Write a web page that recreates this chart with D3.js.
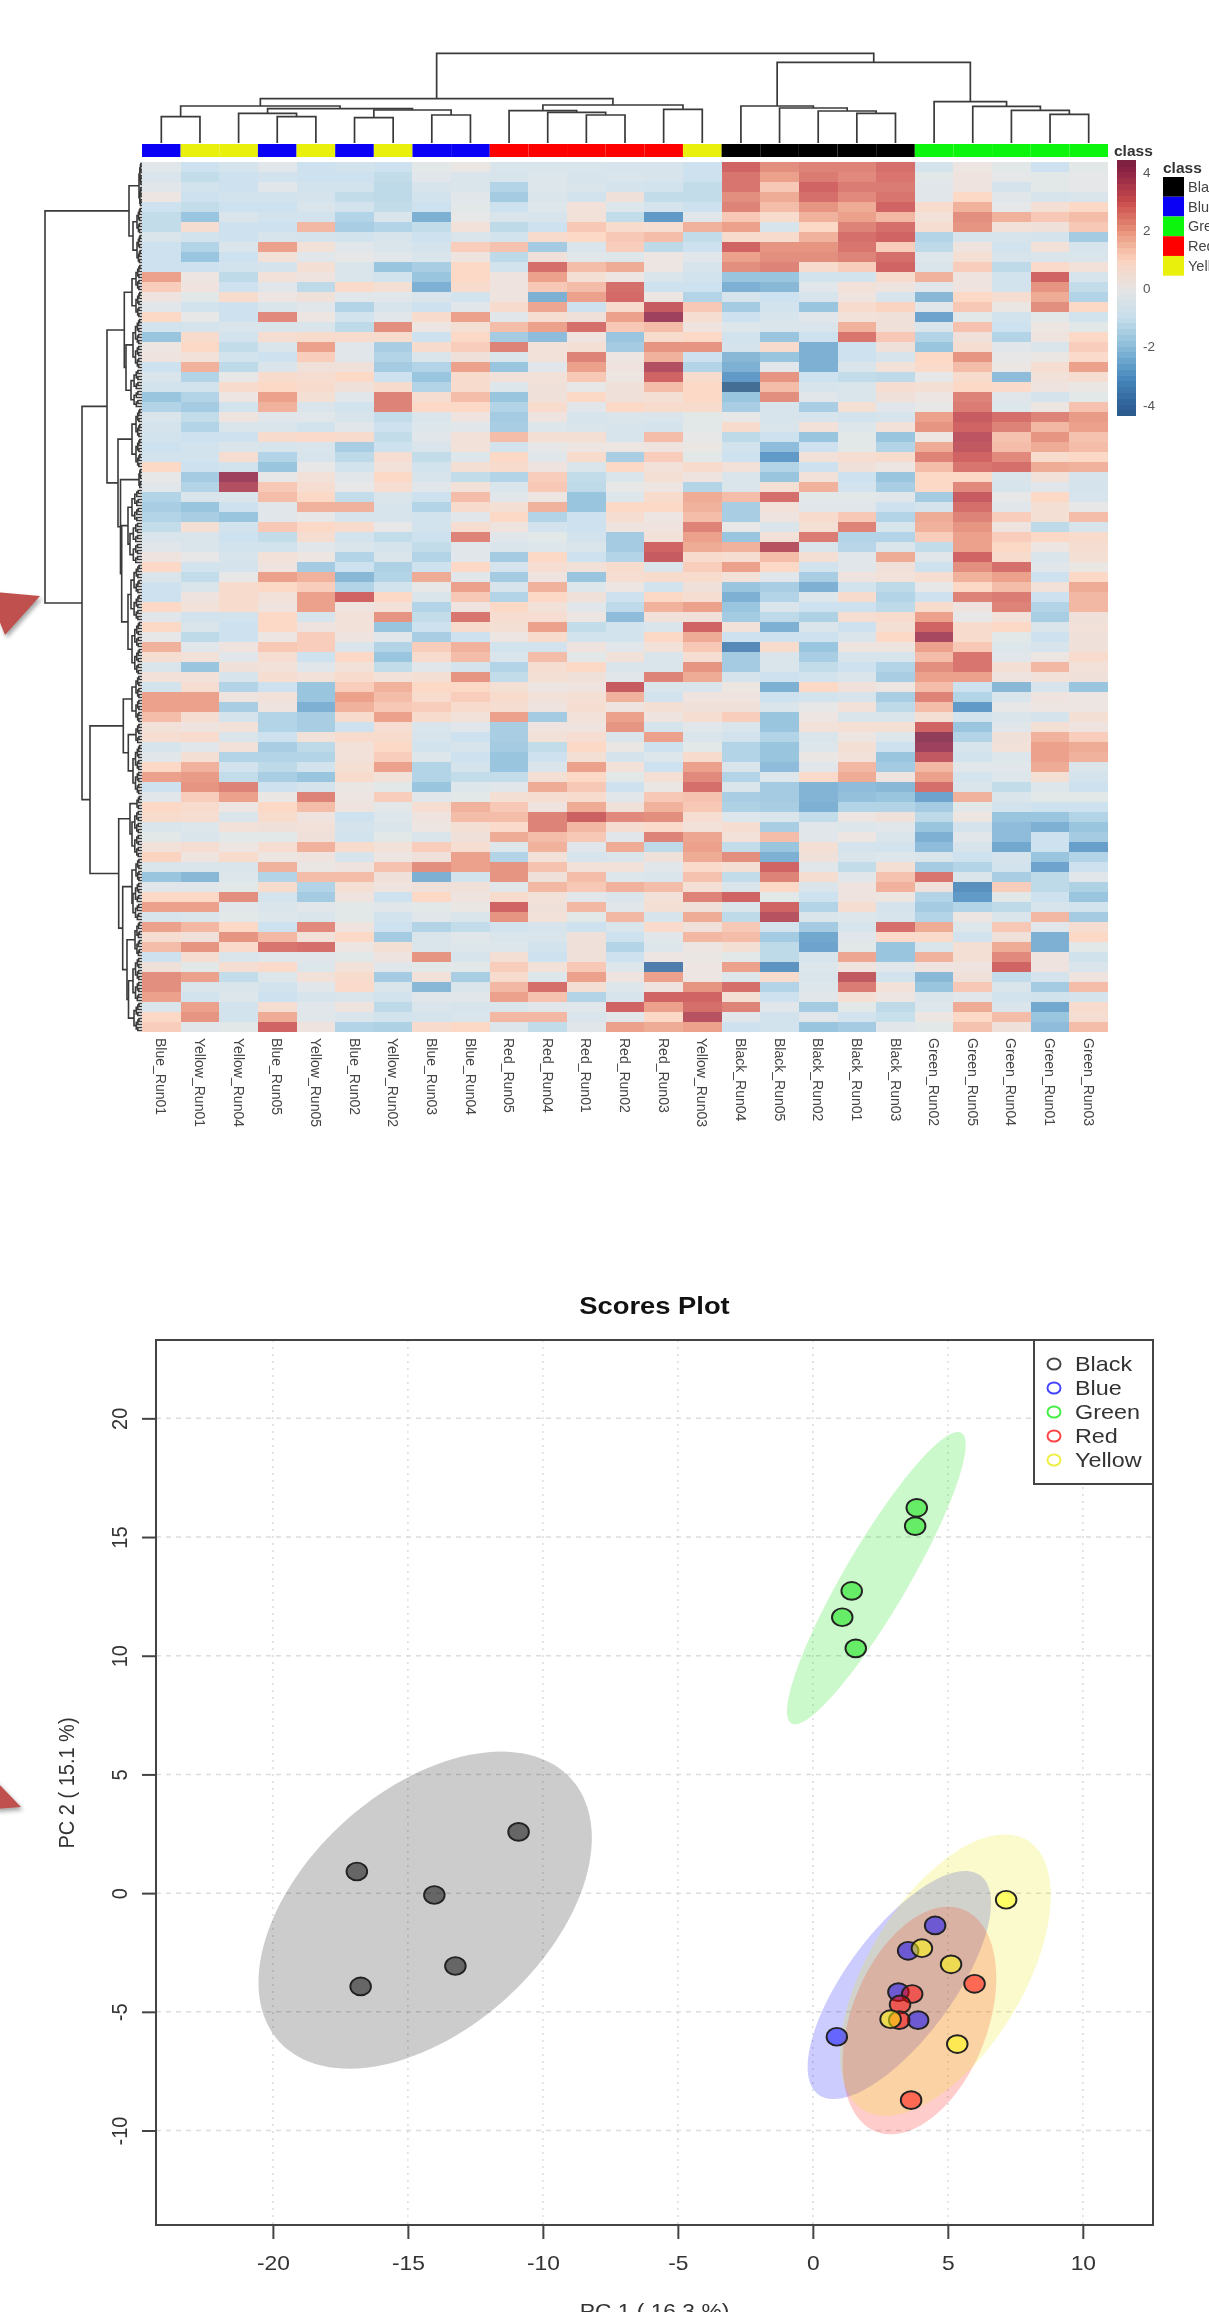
<!DOCTYPE html>
<html>
<head>
<meta charset="utf-8">
<script src="https://cdn.jsdelivr.net/npm/d3@7"></script>
<style>
  html, body { margin: 0; padding: 0; background: #fff; overflow: hidden; }
  svg { display: block; font-family: "Liberation Sans", Arial, sans-serif; filter: blur(0.6px); }
</style>
</head>
<body>
<script>
// heatmap: column labels in dendrogram order
const columnLabels = ['Blue_Run01', 'Yellow_Run01', 'Yellow_Run04', 'Blue_Run05', 'Yellow_Run05',
  'Blue_Run02', 'Yellow_Run02', 'Blue_Run03', 'Blue_Run04', 'Red_Run05', 'Red_Run04', 'Red_Run01',
  'Red_Run02', 'Red_Run03', 'Yellow_Run03', 'Black_Run04', 'Black_Run05', 'Black_Run02',
  'Black_Run01', 'Black_Run03', 'Green_Run02', 'Green_Run05', 'Green_Run04', 'Green_Run01', 'Green_Run03']

// one array per column top to bottom (bands of 10 px)
const blue01 = [-.3,-.5,-.3,.2,-1,-1.2,-1.2,-.5,-1,-1,-1,2,1.2,.3,-.3,1,-.8,-2,.2,.3,-1,-.5,-.8,-2,-1.5,-.5,-.7,-.8,-1,
  -.8,1,0,-.3,-1.5,-1.7,-1.5,-1.2,-.5,-.3,.3,1,-.5,-1,-1,1,-.3,1,0,1.7,.7,-.5,.5,-.8,2,2,1.5,.5,.7,
  -.6,-.3,1,2,-1,-.3,1,.8,-.5,-.2,.5,1.1,-.5,-2,-.3,1,2,-.6,2,.7,1.5,-1,.4,2.3,2.3,2,-.5,1,1.2]
const yellow01 = [-1,-1.2,-.8,-1,-1.2,-2,.7,-.8,-1.5,-2,-1,.2,.3,-.2,-.8,0,-.7,.8,1,.5,1.7,-1.5,-.8,-1.5,-1.8,-1.2,-1.5,-1,-.8,
  -.8,-1,-1.8,-1.5,-.5,-2,-1.7,.6,-.5,-.5,0,-.8,-1.2,-.5,.3,.5,-.8,-.5,-1.3,-.3,.5,-2,.5,.7,2,2,.7,.3,.8,
  -.3,.6,1.7,2.1,2.2,1.2,.8,.7,-.4,-.5,.7,.3,-.5,-2.3,-.3,1,2,-.5,1.6,.4,2.2,.7,-.2,2,-.5,-.8,2,2.2,-.3]
const yellow04 = [-.7,-1,-1,-.8,-1,-.5,-1,-1,-.5,-1,-.8,-1.3,-1,.8,-1,-1,-.5,-.8,-1.2,-.8,-1.3,0,.8,.2,-.8,.3,-.5,-1,-.5,
  .7,-.8,4,3.6,-.5,-1,-2,-.8,-1,-.8,-.6,-.7,0,.8,.8,.8,-.8,-1,-1,.3,-.3,.4,-.6,-1.5,.3,-1.7,-.7,.5,-.5,
  .5,-1.5,-.8,-1.2,2.5,2,.2,-.5,.5,-.2,.2,.8,-.5,-.4,-.2,2.3,-.3,-.2,1,2.2,.9,-.5,.7,-1.2,-.5,-.4,-.8,-.8,-.2]
const blue05 = [-.3,-.8,-.3,-.8,-1,-.8,-1,-.6,2,.5,-.7,.5,-.3,.2,-.5,2.4,-.5,.7,-.5,-1,-.5,.8,1,2,1.7,-.3,-.5,.8,-.6,
  -1.5,-2,0,1.3,1.5,-.3,-.3,1.3,-1.2,-.8,.5,.3,2,1,.5,.3,1,1,.2,1.3,.7,.5,.7,-1,.5,.3,-1.5,-1.5,-1,
  -1.7,-1.5,-1.3,-1.7,-1,.1,1,.8,.4,-.2,.7,.2,1.7,-1.5,.8,-.7,-.5,-.4,-1,1.6,2.7,-.3,.9,-.4,-.8,-1,.7,1.8,3]
const yellow05 = [-1,-1,-.8,-.7,-.5,-.8,1.6,-.7,.5,-.3,.6,.3,-1.3,.4,-.3,.2,-.5,.8,2,1.2,.4,.7,.8,.6,-.5,-.3,-.8,.9,-.5,
  -.6,0,.5,.7,1,1.7,0,1,.7,-.3,.2,-1.8,1.7,1.2,2,2,-.6,.3,1.2,1.2,-1,-.3,.5,-2,-2,-2.5,-1.7,-1.7,.5,
  -1.3,-1.5,-.8,-2,-.7,2.5,1.5,.3,.5,.4,1.7,.3,.1,1.5,-1.5,-1.8,-.3,-.5,2.4,.5,2.8,-.3,-.4,.5,-.3,-.6,-.3,-.3,.3]
const blue02 = [-.8,-1,-.8,-1.2,-.8,-1.5,-1.7,-.8,-.3,0,-.5,-.5,.9,-.3,-1.5,-.8,-1.3,.8,-.3,-.3,.4,1,.4,-.3,-.8,-.6,-.3,.8,-1.7,
  -1.3,-.8,-.3,0,-1.2,1.7,-.6,.8,-.8,-.5,-1.5,-1,-2.3,-1.5,3,.3,.5,.5,.3,-.5,1,.5,.8,1.2,2,1.7,.8,-1,.8,
  .5,.5,.6,.8,.1,.2,.3,-1,-.7,-.8,.8,-.6,.3,1.5,.6,.3,-.2,-.2,.3,1,.2,-.2,.5,.8,.9,-.5,.3,-.5,-1.5]
const yellow02 = [-1,-1.2,-1.3,-1.3,-1.2,-.5,-1.5,-.6,-.5,-.3,-2,-.8,.6,-.3,-.6,-.3,2.3,.8,-1.7,-1.5,-1.8,-1,.8,2.5,2.5,-1.2,-1,-1.2,-1,
  .7,.5,1,.7,-.5,-.6,-.6,0,-1.2,-.7,-.5,-1.6,-1.5,-.8,1,.5,2.2,-2,-.3,-1.5,-2,-1.2,.5,1.7,1.5,1.3,2,.7,.8,
  1,1.2,2,.5,-.2,1.2,-.2,-.4,-.5,-.2,.5,.2,1.4,.4,.3,-1,-.3,-.8,-1,-1.8,.6,.3,-.3,-1.8,-.5,-.8,-1.3,-.8,-1.6]
const blue03 = [-.2,-.3,-.6,-.8,-1,-2.5,-1.2,-1,-.7,-.5,-1.7,-2,-2.5,-.5,-1,.8,.2,-1,.8,-.5,-1.5,-2,-1.5,.7,1,-.5,-.4,-.3,-.5,
  -1.2,-.8,-.6,-.3,-1,-1.5,-.8,-.8,-1,-1.2,-1.5,-1,1.8,0,-.5,-1.5,-1.2,-1,-1.7,1.2,.8,-.3,.6,1,.8,1.2,.8,-.5,-.6,
  -.8,-.4,-1.5,-1.5,-2,-.3,.7,.3,.2,-.5,1.2,.4,2.3,-2.5,.4,1,-.2,-.3,-1.5,-.5,-.5,2.2,-.2,.5,-2.3,-.3,-.5,-.7,.8]
const blue04 = [.1,-.5,-.5,-.3,-.2,0,.5,-.5,1.2,.3,1,1,.8,-.8,-.3,2,.6,1,1.2,.4,2,.8,.8,1.5,1,.3,-.3,.5,.5,
  -.4,.6,-1.2,.5,1.5,.8,-.3,.7,2.5,-.3,-.3,1,-.3,2,1.3,.3,2.7,.8,-1,1.7,1.5,-.7,2.2,1,1.2,.8,.5,-.3,-1,
  -.6,-1,-.7,-1.2,-.4,-.2,1.7,1.5,.6,.4,.7,2,2,-.8,.4,.3,.1,-.5,-1.2,-.3,-.4,-.6,-.2,-1.7,-.5,-.3,-.6,-.5,1]
const red05 = [-.5,-.6,-1.5,-1.8,-1,-.5,-1.3,-.8,1.4,-1.3,-.8,.3,.3,.3,.8,-.3,1.5,-1.8,2.5,-.5,-2,.5,-.4,-2,-1.5,-1.8,-1.7,1.5,-.8,
  1,.8,-1.5,-.5,-.3,.6,1,.3,-.3,-.5,-1.8,-.7,-1.8,-.6,-1.5,1,.7,.6,.2,-.8,-.5,-1.5,-1.2,.6,.8,.7,2,-1.7,-1.7,
  -1.8,-2,-2,-1.2,-.3,.6,1.3,1.5,.9,1.8,-.4,-1.5,2.2,2.2,-.3,.8,3,2.2,-.8,-.5,-.4,.6,1.2,.8,1.6,2,-.5,1.6,-.4]
const red04 = [-.5,-.4,-.4,-.5,-.4,-.6,-1,.8,-1.8,.4,2.8,2,1.3,-2.5,1.9,.7,2,-2.2,.5,.5,-.3,.5,.4,.4,.8,.3,-.4,.6,0,
  -.3,.3,1.2,1.3,.2,1.7,-1.5,-.8,-.2,-.4,1,.7,.3,1.7,1,.5,.7,2,.8,-.8,1.5,.7,.6,.2,.5,.3,-1.8,.3,.5,
  -1.2,-1,-.5,.6,1.8,.7,.3,2.5,2.5,1.5,1.7,.5,1.4,.4,1.6,.5,.4,.5,-.6,-.5,-.8,-1,.5,-.4,2.8,1.4,-.3,1.6,-1.2]
const red01 = [-.5,-.6,-.5,-.8,.5,.5,1.3,1,-.5,-.3,1.5,.6,1.5,2,-1,.4,2.8,.3,.6,2.5,2,1.3,0,1,-.3,-.6,-.5,.6,.2,
  .8,-.5,-1.2,-1.3,-2,-2,-1,-1,-.8,-.5,-1,.5,-2,-.4,.4,-.3,.2,-1.2,-.8,.3,-.2,1,.4,.3,.6,.7,.5,.3,.7,
  1,.6,2,1,1.3,.8,1.8,3.1,1.6,1.3,-.3,-.6,.5,1.5,1.3,-.3,1.6,-.2,-1,.4,.4,.4,1.3,2,.6,-1.5,-.3,-.5,-.3]
const red02 = [-.6,-.5,-.7,.4,-.4,-1.2,.8,1.3,1.2,-.4,1.8,.2,2.8,2.9,.8,2,1.3,-2,-1.8,.2,.3,.2,.4,.4,1,-.5,-.6,-.6,.2,
  -1.7,1,-.5,0,-.4,1,.7,.3,-1.8,-1.8,-1.5,.8,.7,.2,-1,-1.3,-2.2,-.8,-.8,-.3,.5,-.5,-.3,3.2,1.7,.3,2,2.2,-.5,
  .1,-.7,.5,-.2,-1,-.3,.4,2.4,.7,-.3,1.8,-.5,.5,-.4,1.7,-.5,-.3,1.6,-.5,-1,-1.5,-1,-.4,.3,-.4,-.6,3,-.3,2]
const red03 = [-.6,-.6,-.8,-1.2,-.7,-3,.7,1.5,-1.3,.2,.2,-.5,-1,.2,3.2,4,1.5,.8,2.2,1.7,3.6,3,1.5,.6,.8,-.5,-.7,1.5,.3,
  1.2,.5,.6,.2,.8,1,.2,.3,.5,3,3.2,-.5,.8,-.8,1,1.7,.5,-.5,1,.5,-.5,-.5,2.5,-.5,-.8,.6,.3,-.7,2,
  -1,-.4,-1,.6,.1,1.3,1.7,2.3,.9,2.5,-1.3,.4,-.3,-.5,1.5,.5,.6,-.6,.9,-.3,-.4,.2,-3.8,2,.3,3,2,1,1.8]
const yellow03 = [-1,-1,-1.2,-1.2,-1,-.3,1.7,-1.2,-1,-.3,-.6,-.8,-1,-1.5,1.3,.7,.3,1,2.2,-1,-1.5,.8,1,1,.8,-.2,-.2,0,.1,
  -.2,.8,.3,-1.5,1.8,1.7,1.5,2.5,2,1.8,.8,1.2,.8,.4,.7,2,.4,3,1.8,1.3,.7,2.2,1.8,-.5,.3,.4,.7,-.3,-.5,
  -.2,.8,2,2.4,2.8,1.4,1.3,.7,.5,1.9,2,1.8,.9,1.4,.6,2.5,.4,1.8,.4,1.6,.2,.1,.2,.2,2.2,3,2.8,3.5,2]
const black04 = [3,2.7,2.7,2.3,2.5,1.3,2,.8,3,2,2.3,-2,-2.5,-.6,-1.8,-1,-.4,-.8,-.7,-2.3,-2.5,-3,-4.5,-2,-1.7,0,.8,-1.3,-.8,
  -1,.5,-.5,-.5,1.5,-1.7,-1.7,0,-2,1.7,.7,2,.5,-2,-2.5,-2,-1.8,.5,-1,-3.5,-1.8,-1.8,-.7,.2,.3,.4,1.2,-.5,-.8,
  -1.5,-1.5,-.5,-1.5,-.5,-1.7,-1.6,-.4,.7,.5,-1.2,2.3,.6,-1.2,-.5,3,-.5,-1.3,1.3,1.5,.6,-.2,2,-.4,2.8,.6,2.5,-.3,-1]
const black05 = [2.3,2,1.3,1.8,1.5,.8,-.6,.8,2.2,2.3,2.5,-2,-2.3,-1,-.8,-.6,-.5,-2,.8,-2,-.3,2.2,1.5,2.3,-.6,-.6,-.5,-1,-2.2,
  -3,-1.5,-2,.6,2.8,.5,.3,-.5,.5,3.5,1.5,1,-.3,-1.7,-1.5,-.5,-1.3,-2.5,-1,.8,-.5,-.5,-1,-2.5,-1,-.5,-2,-2,-1.5,
  -2,-2,-2.2,-.4,-1.8,-1.8,-1.7,-.5,-1.7,1.5,-2,-2.5,3,2.5,1,-.2,3,3.5,-.7,-1.8,-1.3,-1.3,-3.2,.8,-1.5,-1,-.3,-.8,-.8]
const black02 = [2.5,2.6,3,2.8,2.2,1.7,1,1.7,2.2,2.3,.8,-.8,-.3,-.6,-2,-.3,-.5,-1,-2.5,-2.5,-2.5,-1,-.6,-.3,-1.7,-.6,.5,-2,-1,
  .5,-1,.5,1.7,-.2,-.3,.8,.6,2.6,-.5,.6,-.8,-1.7,-2.5,-.4,-1,-1.6,-.5,-1,-2,-1.7,-1.2,-.8,1,-.8,0,.2,.5,-.5,
  -.4,.1,-.3,.9,-2.4,-2.4,-2.5,-1.2,-.3,-.3,.6,.4,-.3,.7,-.5,-1,-1.5,-.5,-1.8,-2.7,-2.8,-.6,-.4,-.5,-.4,-.3,-1.8,-.3,-2]
const black01 = [2.5,2.4,2.6,2.4,1.8,2,2.5,2.8,2.7,2.5,1.2,-.8,.5,.3,.8,.5,1.7,2.7,-1,-1,-.5,-1.2,-.5,-.5,.6,-.8,-.4,-.2,-.2,
  .7,.4,-1,-.8,-.2,-.3,1.3,2.5,-1.5,-1.4,-.3,-.3,.3,-.8,.8,-1,.7,-1,-.5,.3,-.6,-1,-.5,.4,-.6,.5,-.5,.6,.2,
  .6,.5,1.6,1.8,-2.2,-2.1,-1.5,.2,-.4,.2,-.7,-.5,-1.2,-.3,.3,.3,.7,-.4,-.6,-.3,-.2,1.9,.3,3.3,2.6,.6,-.2,-.8,-1.8]
const black03 = [2.8,2.7,2.6,2.7,3,1.6,2.8,3,1.2,2.8,3,.8,.3,-.6,1.1,.4,.4,1.3,.4,-.6,.5,-1.3,.7,.4,-.3,-.6,.5,-2,-1.5,
  .8,.2,-2,-1.7,-.3,-1,-1.5,-.6,-1.5,-.5,1.8,.4,.5,-1.3,-1.5,-1.3,.8,.6,1,.3,-.6,-1.5,-1.7,.2,-1.7,-1.3,-.5,.6,-.4,
  -1,-2,-1.8,.3,-2.3,-2,-1.5,.4,-.3,-.5,-.8,-.4,.6,1.4,1.7,.2,-.7,-.6,2.8,.9,-2,-2,-.3,-.8,.5,.2,-1.3,-1.1,-.3]
const green02 = [-.7,-.2,-.3,-.3,.8,.5,.7,-1.5,-1.3,-.4,-.5,1.7,-.3,-2.3,-.3,-2.8,-.5,-1.5,-2,1,.9,-.1,.6,.2,0,2,2.2,.2,1.8,
  2.5,1.5,1,1,-1.8,-.7,1.8,1.7,1.2,-1.2,-.3,-1,.7,0,-1,.8,2,3,3.8,2,1.5,2.3,2,1.5,2.5,1.5,.6,3,4.3,
  4,3.3,1.6,2,2.8,-2.8,-1.8,-1.3,-2,-2.5,-2.2,-.5,-1.8,2.7,.4,-1.5,-1.8,-1.5,1.8,.9,-.5,1.7,.3,-2.3,-2,-.5,-.4,.2,-.2]
const green05 = [.2,.3,.3,1,1.7,2.3,2.2,-.6,.3,.6,1.2,.3,.3,1,1.3,-.2,1.4,.4,.7,2.2,1.5,.8,1,2.5,2.6,3.2,3,3.4,3.3,
  3,2.7,1,2.4,3.2,2.8,2.5,2.2,2,2,3,2.3,1.7,1,2.5,.3,0,.8,.8,1.3,2.7,2.7,2,-1,-1.5,-3,-.8,-2,-1.5,
  -.6,-.8,-.3,-.7,-.5,1.7,-.2,.2,-.7,-.3,-.6,-1,-1.5,-.5,-3.3,-3,-1.5,.2,-.4,-.8,.6,.6,.3,.4,1.3,-.3,1.8,1,1.4]
const green04 = [-.2,-.1,-.7,-.3,-.1,1.7,.5,-.6,-.8,-.6,-1.3,-.8,-.8,.7,.1,-.8,-1,-1.5,-.3,0,.1,-2.2,.9,-.3,-.4,2.8,2.5,1.4,1.5,
  2.4,2.8,-.5,-.6,0,-.3,1.2,.3,1.2,1,.8,2.8,2,1.5,2.6,2.5,.5,1,-.2,-.4,-.3,.6,.3,-2.3,-.5,0,-.5,-.3,.4,
  .5,-.4,-.3,-.4,-1.2,-.5,-.8,-2,-2.2,-2.2,-2.7,-.7,-.8,-1.7,1.2,-.2,-1.3,-.5,1.3,.4,1.8,2.4,3,-1.2,-.5,-.8,-.5,1.5,.4]
const green01 = [-1,-.2,-.2,-.6,.6,1.3,.4,-.7,.5,-.5,.9,3,2.2,1.8,2.3,-.2,.2,.3,-.5,.1,.7,.5,.3,-.7,.2,2.5,1.6,2.2,1.8,
  .8,1.8,.5,-.3,1,.6,.6,-1.3,1,.2,-.5,-.3,-1,.5,-1,-1.5,-1.7,-.5,-1,-.6,.2,1.6,.5,-.6,.3,.2,-.7,.6,1.7,
  2,2,1.8,.6,-.4,-.2,-1,-2,-2.5,-1,-1,-2,-2.8,-1.3,-1.3,-1,-.6,1.6,-.3,-2.5,-2.5,.3,.3,-.7,-1.8,-.9,-2.7,-2,-2.2]
const green03 = [-.2,-.1,-.1,-.5,1,1.5,1.3,-1.8,-.6,-.5,.5,-.6,-1.2,-1.5,1,-.8,-.2,1,1.2,.9,2,.7,.1,-.2,1.4,2.1,2,1.4,1.5,
  1,1.7,-.6,-.7,-.6,0,1.5,-.6,.8,.7,.6,.1,1,1.8,1.6,1.6,.4,.5,.4,.4,.8,.5,.4,-2,.2,.2,.6,.3,1.2,
  1.8,1.7,-.5,-.7,-1,-.2,-1,-1.5,-2,-1.8,-2.9,-1.5,-1,-.3,-1.6,-2,-.8,-1.8,.7,1,-.2,-.9,-.5,.3,1.5,-.7,.8,.7,1.5]

const heatColumns = [blue01, yellow01, yellow04, blue05, yellow05, blue02, yellow02, blue03, blue04,
  red05, red04, red01, red02, red03, yellow03, black04, black05, black02, black01, black03,
  green02, green05, green04, green01, green03]

// dendrograms as [height, child, child]. In the column tree a leaf is a column index
const columnTree = [89.7,
  [44.3,
    [37, [26.3, 0, 1], [34.3, [29.7, 2, [26.3, 3, 4]], [33, [25.3, 5, 6], [28, 7, 8]]]],
    [38, [32.3, 9, [30.7, 10, [28, 11, 12]]], [33.7, 13, 14]]],
  [80.7,
    [37, 15, [35, 16, [32, 17, [29.7, 18, 19]]]],
    [41.3, 20, [36.7, 21, [32.7, 22, [28.7, 23, 24]]]]]]

// in the row tree a pair [height, n] is a dense cluster of n twigs, too fine to read one by one
const rowTree = [97,
  [13, [3, 15], [9, [5, 9], [5, 10]]],
  [60,
    [35,
      [17.7, [10, [6, 9], [6, 9]], [16, [9, 17], [11, 13]]],
      [24, [10, [6, 10], [6, 10]],
        [21.5, [3, 7], [20.3, [14, [10, 11], [12, 14]], [14, [11, 19], [10, 18]]]]]],
    [52,
      [18.7, [10, [6, 8], [6, 8]], [13.7, [6, 7], [9, 17]]],
      [23.3, [12, [5, 5], [10, 16]],
        [19.3, [10, [6, 8], [9, 13]], [15, [7, 12], [13.5, [9, 15], [8, 10]]]]]]]]

const classNames = ['Black', 'Blue', 'Green', 'Red', 'Yellow']
const classColors = ['#000000', '#0a00f5', '#0cf50c', '#ff0000', '#e8f00c']
const heatStops = [-4.4, -4, -3, -2, -1, 0, 1, 2, 3, 4, 4.4]
const heatHues = ['#2a5a88', '#2f6298', '#4a8bbf', '#8abcd9', '#c6deeb', '#e4e4e4', '#fbd3bf', '#e8937a', '#c94c4c', '#8f2547', '#7a1f3d']
const heatTicks = [4, 2, 0, -2, -4]

// scores plot
const blackX = [-10.9, -16.89, -14.02, -13.24, -16.75]
const blackY = [2.58, 0.91, -0.08, -3.07, -3.93]
const blueX = [4.53, 3.53, 3.17, 3.9, 0.89]
const blueY = [-1.36, -2.43, -4.17, -5.35, -6.05]
const greenX = [3.85, 3.79, 1.44, 1.09, 1.59]
const greenY = [16.23, 15.46, 12.73, 11.62, 10.31]
const redX = [5.99, 3.68, 3.23, 3.2, 3.64]
const redY = [-3.82, -4.25, -4.69, -5.35, -8.72]
const yellowX = [7.16, 4.04, 5.12, 2.88, 5.35]
const yellowY = [-0.28, -2.32, -3, -5.31, -6.36]
const xTicks = [-20, -15, -10, -5, 0, 5, 10]
const yTicks = [-10, -5, 0, 5, 10, 15, 20]

const groups = [
  {name: 'Black', xs: blackX, ys: blackY, color: '#000000', fill: '#000000', ring: '#444444'},
  {name: 'Blue', xs: blueX, ys: blueY, color: '#0000ff', fill: '#0000ff', ring: '#4444ff'},
  {name: 'Green', xs: greenX, ys: greenY, color: '#00e000', fill: '#00e000', ring: '#44ee44'},
  {name: 'Red', xs: redX, ys: redY, color: '#ff0000', fill: '#ff0000', ring: '#ff4444'},
  {name: 'Yellow', xs: yellowX, ys: yellowY, color: '#e8e800', fill: '#ffff00', ring: '#eeee44'}
]

const svg = d3.select('body').append('svg')
  .attr('width', 1209)
  .attr('height', 2312)

// ---------- heatmap ----------
const colScale = d3.scaleBand().domain(columnLabels).range([142, 1108])
const rowScale = d3.scaleBand().domain(d3.range(blue01.length)).range([162, 1032])
const heatColor = d3.scaleLinear().domain(heatStops).range(heatHues)
const classColor = d3.scaleOrdinal().domain(classNames).range(classColors)

const heat = svg.append('g')
  .attr('shape-rendering', 'crispEdges')
  .attr('fill-opacity', 0.87)

columnLabels.forEach(function (label, j) {
  heat.append('g')
    .selectAll('rect')
    .data(heatColumns[j])
    .join('rect')
      .attr('x', colScale(label))
      .attr('y', (d, i) => rowScale(i))
      .attr('width', colScale.bandwidth())
      .attr('height', rowScale.bandwidth())
      .attr('fill', d => heatColor(d))
})

svg.append('g')
  .selectAll('rect')
  .data(columnLabels)
  .join('rect')
    .attr('x', d => colScale(d))
    .attr('y', 144)
    .attr('width', colScale.bandwidth())
    .attr('height', 13)
    .attr('fill', d => classColor(d.split('_')[0]))

const labelAxis = d3.axisBottom(colScale).tickSize(0)
svg.append('g')
  .attr('transform', 'translate(0,1032)')
  .call(labelAxis)
  .call(g => g.select('.domain').remove())
  .selectAll('text')
    .attr('x', 6)
    .attr('y', 0)
    .attr('dy', '.35em')
    .attr('transform', 'rotate(90)')
    .attr('text-anchor', 'start')
    .attr('font-family', 'Liberation Sans')
    .attr('font-size', 14)
    .attr('fill', '#444')

// a [height, n] cluster becomes a small binary comb
function twigs (h, n) {
  if (n === 1) return 0
  const half = Math.ceil(n / 2)
  return [h, twigs(h * 0.72, half), twigs(h * 0.72, n - half)]
}

function expand (node) {
  if (node.length === 2) return twigs(node[0], node[1])
  return [node[0], expand(node[1]), expand(node[2])]
}

function drawTree (tree, leafPos, heightPos, sideways, width) {
  const root = d3.hierarchy(tree, d => Array.isArray(d) ? d.slice(1) : null)
  const heightOf = d => Array.isArray(d.data) ? d.data[0] : 0
  const place = (a, h) => sideways ? [heightPos(h), a] : [a, heightPos(h)]
  let leaf = 0
  root.eachAfter(function (d) {
    d.pos = d.children ? d3.mean(d.children, c => c.pos) : leafPos(leaf++)
  })
  svg.append('g')
    .selectAll('path')
    .data(root.descendants().filter(d => d.children))
    .join('path')
      .attr('d', function (d) {
        const a = d.children[0]
        const b = d.children[1]
        return d3.line()([place(a.pos, heightOf(a)), place(a.pos, heightOf(d)),
          place(b.pos, heightOf(d)), place(b.pos, heightOf(b))])
      })
      .attr('fill', 'none')
      .attr('stroke', '#3a3a3a')
      .attr('stroke-width', width)
}

const colCenter = i => colScale(columnLabels[i]) + colScale.bandwidth() / 2
drawTree(columnTree, colCenter, d3.scaleLinear().domain([0, 89.7]).range([143, 53.3]), false, 1.7)

const rowLeaves = d3.scaleBand().domain(d3.range(290)).range([162, 1032])
drawTree(expand(rowTree), i => rowLeaves(i) + 1.5, d3.scaleLinear().domain([0, 97]).range([142, 45]), true, 1.6)

// heatmap legends
svg.append('text')
  .attr('x', 1114).attr('y', 156)
  .attr('font-size', 15.5).attr('font-weight', 'bold').attr('fill', '#333')
  .text('class')

const barScale = d3.scaleLinear().domain([4.33, -4.38]).range([163, 415.7])
svg.append('g')
  .attr('shape-rendering', 'crispEdges')
  .selectAll('rect')
  .data(d3.range(-4.38, 4.33, 0.2))
  .join('rect')
    .attr('x', 1117)
    .attr('y', d => barScale(d + 0.2))
    .attr('width', 19)
    .attr('height', d => barScale(d) - barScale(d + 0.2) + 0.5)
    .attr('fill', d => heatColor(d + 0.1))

svg.append('g')
  .attr('transform', 'translate(1136,0)')
  .call(d3.axisRight(barScale).tickValues(heatTicks).tickFormat(String).tickSize(0).tickPadding(7))
  .call(g => g.select('.domain').remove())
  .selectAll('text')
    .attr('font-family', 'Liberation Sans')
    .attr('font-size', 13.5)
    .attr('fill', '#555')

svg.append('text')
  .attr('x', 1163).attr('y', 172.7)
  .attr('font-size', 15.5).attr('font-weight', 'bold').attr('fill', '#333')
  .text('class')

const swatch = d3.scaleBand().domain(classNames).range([177, 275.7])
svg.append('g')
  .selectAll('rect')
  .data(classNames)
  .join('rect')
    .attr('x', 1163)
    .attr('y', d => swatch(d))
    .attr('width', 21)
    .attr('height', swatch.bandwidth())
    .attr('fill', d => classColor(d))
svg.append('g')
  .selectAll('text')
  .data(classNames)
  .join('text')
    .attr('x', 1188)
    .attr('y', d => swatch(d) + swatch.bandwidth() / 2 + 5)
    .attr('font-size', 14.5)
    .attr('fill', '#444')
    .text(d => d)

// ---------- scores plot ----------
const x = d3.scaleLinear().domain([-24.33, 12.6]).range([156, 1153])
const y = d3.scaleLinear().domain([23.3, -13.98]).range([1340, 2225])
const stretch = 'scale(1.14,1)'

svg.append('g')
  .selectAll('line')
  .data(xTicks)
  .join('line')
    .attr('x1', d => x(d)).attr('x2', d => x(d))
    .attr('y1', y.range()[0]).attr('y2', y.range()[1])
    .attr('stroke', '#dcdcdc')
    .attr('stroke-width', 1.5)
    .attr('stroke-dasharray', '2,5')

svg.append('g')
  .selectAll('line')
  .data(yTicks)
  .join('line')
    .attr('x1', x.range()[0]).attr('x2', x.range()[1])
    .attr('y1', d => y(d)).attr('y2', d => y(d))
    .attr('stroke', '#dcdcdc')
    .attr('stroke-width', 1.5)
    .attr('stroke-dasharray', '5,5')

// 95% ellipse of a group, from its own mean and covariance
function ellipsePoints (xs, ys) {
  const mx = d3.mean(xs)
  const my = d3.mean(ys)
  const sx = d3.deviation(xs)
  const sy = d3.deviation(ys)
  const cov = d3.sum(xs, (v, i) => (v - mx) * (ys[i] - my)) / (xs.length - 1)
  const delta = Math.acos(cov / (sx * sy))
  const t = Math.sqrt(5.991)
  return d3.range(0, 2 * Math.PI, 0.05).map(a => [
    mx + t * sx * Math.cos(a + delta / 2),
    my + t * sy * Math.cos(a - delta / 2)
  ])
}

const ellipseLine = d3.line()
  .x(d => x(d[0]))
  .y(d => y(d[1]))
  .curve(d3.curveLinearClosed)

svg.append('g')
  .selectAll('path')
  .data(groups)
  .join('path')
    .attr('d', d => ellipseLine(ellipsePoints(d.xs, d.ys)))
    .attr('fill', d => d.color)
    .attr('fill-opacity', 0.2)

groups.forEach(function (group) {
  svg.append('g')
    .selectAll('ellipse')
    .data(group.xs)
    .join('ellipse')
      .attr('cx', d => x(d))
      .attr('cy', (d, i) => y(group.ys[i]))
      .attr('rx', 10.3)
      .attr('ry', 8.9)
      .attr('fill', group.fill)
      .attr('fill-opacity', 0.5)
      .attr('stroke', '#222')
      .attr('stroke-width', 1.9)
})

// box
svg.append('rect')
  .attr('x', x.range()[0])
  .attr('y', y.range()[0])
  .attr('width', x.range()[1] - x.range()[0])
  .attr('height', y.range()[1] - y.range()[0])
  .attr('fill', 'none')
  .attr('stroke', '#444')
  .attr('stroke-width', 2)

const xAxis = d3.axisBottom(x).tickValues(xTicks).tickFormat(String).tickSize(14).tickPadding(17)
svg.append('g')
  .attr('transform', 'translate(0,' + y.range()[1] + ')')
  .call(xAxis)
  .call(g => g.select('.domain').remove())
  .call(g => g.selectAll('line').attr('stroke', '#444').attr('stroke-width', 2))
  .selectAll('text')
    .attr('transform', stretch)
    .attr('font-family', 'Liberation Sans')
    .attr('font-size', 20)
    .attr('fill', '#333')

const yAxis = d3.axisLeft(y).tickValues(yTicks).tickFormat(String).tickSize(14)
svg.append('g')
  .attr('transform', 'translate(' + x.range()[0] + ',0)')
  .call(yAxis)
  .call(g => g.select('.domain').remove())
  .call(g => g.selectAll('line').attr('stroke', '#444').attr('stroke-width', 2))
  .selectAll('text')
    .attr('x', 0)
    .attr('dy', 0)
    .attr('text-anchor', 'middle')
    .attr('transform', 'translate(-29,0) ' + stretch + ' rotate(-90)')
    .attr('font-family', 'Liberation Sans')
    .attr('font-size', 20)
    .attr('fill', '#333')

svg.append('text')
  .attr('transform', 'translate(654.5,1314) ' + stretch)
  .attr('text-anchor', 'middle')
  .attr('font-size', 24)
  .attr('font-weight', 'bold')
  .attr('fill', '#111')
  .text('Scores Plot')

svg.append('text')
  .attr('transform', 'translate(654.5,2318) ' + stretch)
  .attr('text-anchor', 'middle')
  .attr('font-size', 20)
  .attr('fill', '#333')
  .text('PC 1 ( 16.3 %)')

svg.append('text')
  .attr('transform', 'translate(74,1783) ' + stretch + ' rotate(-90)')
  .attr('text-anchor', 'middle')
  .attr('font-size', 20)
  .attr('fill', '#333')
  .text('PC 2 ( 15.1 %)')

// plot legend
const legendRow = d3.scalePoint().domain(groups.map(d => d.name)).range([1364, 1460])
svg.append('rect')
  .attr('x', 1034).attr('y', 1340)
  .attr('width', 119).attr('height', 144)
  .attr('fill', '#fff').attr('stroke', '#444').attr('stroke-width', 2)

svg.append('g')
  .selectAll('ellipse')
  .data(groups)
  .join('ellipse')
    .attr('cx', 1054)
    .attr('cy', d => legendRow(d.name))
    .attr('rx', 6.5)
    .attr('ry', 5.6)
    .attr('fill', 'none')
    .attr('stroke', d => d.ring)
    .attr('stroke-width', 2)

svg.append('g')
  .selectAll('text')
  .data(groups)
  .join('text')
    .attr('transform', d => 'translate(1075,' + (legendRow(d.name) + 7) + ') ' + stretch)
    .attr('font-size', 20.5)
    .attr('fill', '#333')
    .text(d => d.name)

// red call-out arrows on the left edge
const arrows = svg.append('g')
  .style('filter', 'drop-shadow(2px 3px 2px rgba(0,0,0,.35))')
arrows.append('polygon')
  .attr('points', '-5,592 40,596 5,635 -5,610')
  .attr('fill', '#c0504d')
arrows.append('polygon')
  .attr('points', '-5,1780 21,1807 -5,1809')
  .attr('fill', '#c0504d')
</script>
</body>
</html>
